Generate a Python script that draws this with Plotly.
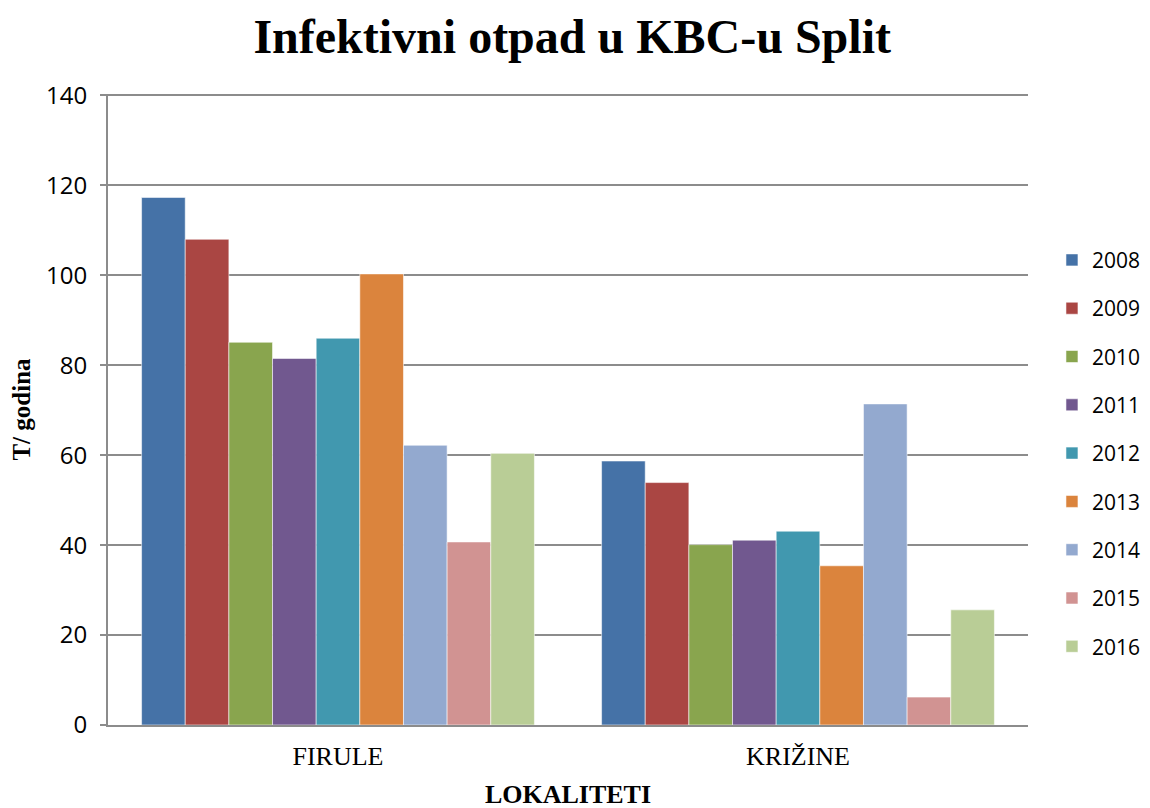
import plotly.graph_objects as go

categories = ["FIRULE", "KRIŽINE"]
years = ["2008", "2009", "2010", "2011", "2012", "2013", "2014", "2015", "2016"]
firule = [117.3, 108.0, 85.1, 81.5, 86.0, 100.3, 62.2, 40.7, 60.4]
krizine = [58.7, 53.9, 40.1, 41.1, 43.1, 35.4, 71.4, 6.2, 25.6]
colors = ["#4572A7", "#AA4643", "#89A54E", "#71588F", "#4198AF",
          "#DB843D", "#93A9CF", "#D19392", "#B9CD96"]

fig = go.Figure()
for i, y in enumerate(years):
    fig.add_trace(go.Bar(
        x=categories, y=[firule[i], krizine[i]], name=y,
        marker=dict(color=colors[i], line=dict(color="rgba(255,255,255,0.55)", width=1)),
        legendgroup=y,
    ))

fig.update_layout(
    width=1150, height=808,
    paper_bgcolor="white", plot_bgcolor="white",
    margin=dict(l=100, r=130, t=86, b=91, autoexpand=False),
    barmode="group", bargap=0.146, bargroupgap=0,
    title=dict(text="<b>Infektivni otpad u KBC-u Split</b>", x=0.4906, xanchor="center",
               y=0.965, yanchor="middle",
               font=dict(family="Liberation Serif", size=48, color="black")),
    legend=dict(xref="container", x=0.9078, xanchor="left", y=0.769, yanchor="top",
                font=dict(family="Open Sans", size=21, color="black"),
                tracegroupgap=18, itemwidth=30),
    showlegend=True,
)
fig.update_xaxes(
    showline=True, linecolor="#8c8c8c", linewidth=2,
    tickfont=dict(family="Liberation Serif", size=26, color="black"),
    ticklabelstandoff=7,
    title=dict(text="<b>LOKALITETI</b>", font=dict(family="Liberation Serif", size=26, color="black"),
               standoff=15),
    ticks="", showgrid=False,
)
fig.update_yaxes(
    range=[0, 140.3], dtick=20,
    showline=True, linecolor="#8c8c8c", linewidth=2,
    showgrid=True, gridcolor="#8c8c8c", gridwidth=1.5,
    ticks="outside", ticklen=6, tickcolor="#8c8c8c", tickwidth=2,
    ticklabelstandoff=8,
    tickfont=dict(family="Open Sans", size=24, color="black"),
    title=dict(text="<b>T/ godina</b>", font=dict(family="Liberation Serif", size=25, color="black"),
               standoff=12),
    zeroline=False,
)

fig.write_html("out.html")
